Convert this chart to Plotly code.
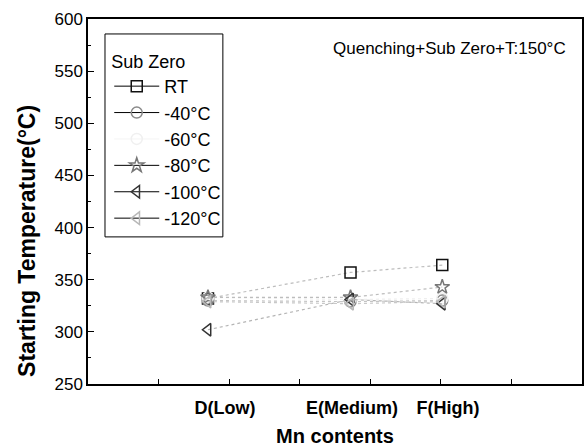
import plotly.graph_objects as go

# ---- data ----
categories = ["D(Low)", "E(Medium)", "F(High)"]
cat_pos = [1.7, 3.72, 5.02]          # category positions on the x scale
label_pos = [1.94, 3.74, 5.1]        # where the category labels sit
series_names = ["RT", "-40°C", "-60°C", "-80°C", "-100°C", "-120°C"]
rt = [332, 357, 364]
m40 = [330, 329, 330]
m60 = [333, 331, 332]
m80 = [333, 333, 343]
m100 = [302, 331, 327]
m120 = [329, 327, 329]
y_ticks = [250, 300, 350, 400, 450, 500, 550, 600]
x_minor_ticks = [1, 2, 3, 4, 5, 6]

series_vals = [rt, m40, m60, m80, m100, m120]
symbols = ["square-open", "circle-open", "circle-open", "star-open",
           "triangle-left-open", "triangle-left-open"]
mcolors = ["#111111", "#8a8a8a", "#f0f0f0", "#777777", "#333333", "#b8b8b8"]
lcolors = ["#bdbdbd", "#c4c4c4", "#eeeeee", "#bdbdbd", "#b5b5b5", "#c8c8c8"]
leg_lines = ["#000000", "#000000", "#f4f4f4", "#000000", "#000000", "#000000"]

FONT = "Liberation Sans, Arial, sans-serif"

fig = go.Figure()
for name, vals, sym, mc, lc in zip(series_names, series_vals, symbols, mcolors, lcolors):
    fig.add_trace(go.Scatter(
        x=cat_pos, y=vals, mode="lines+markers", name=name, showlegend=False,
        line=dict(color=lc, width=1.2, dash="dot"),
        marker=dict(symbol=sym, size=11, color=mc, line=dict(color=mc, width=1.5)),
    ))
# legend entries (solid lines as in the original legend)
for name, sym, mc, ll in zip(series_names, symbols, mcolors, leg_lines):
    fig.add_trace(go.Scatter(
        x=[None], y=[None], mode="lines+markers", name=name, showlegend=True,
        line=dict(color=ll, width=1),
        marker=dict(symbol=sym, size=11, color=mc, line=dict(color=mc, width=1.5)),
    ))

fig.add_annotation(
    x=0.972, y=0.92, xref="paper", yref="paper", xanchor="right", yanchor="middle",
    text="Quenching+Sub Zero+T:150°C", showarrow=False,
    font=dict(family=FONT, size=17, color="black"),
)
# y-axis title
fig.add_annotation(
    x=-0.1235, y=0.392, xref="paper", yref="paper", xanchor="center", yanchor="middle",
    text="<b>Starting Temperature(°C)</b>", showarrow=False, textangle=-90,
    font=dict(family=FONT, size=23, color="black"),
)
# legend frame
fig.add_shape(type="rect", xref="paper", yref="paper",
              x0=0.0344, x1=0.273, y0=0.403, y1=0.959,
              line=dict(color="black", width=1), fillcolor="rgba(0,0,0,0)")

fig.update_layout(
    width=587, height=447,
    margin=dict(l=88, r=5, t=19, b=63),
    paper_bgcolor="white", plot_bgcolor="white",
    font=dict(family=FONT, color="black"),
    showlegend=True,
    legend=dict(
        x=0.043, y=0.93, xanchor="left", yanchor="top",
        borderwidth=0, bgcolor="rgba(0,0,0,0)",
        title=dict(text="Sub Zero", font=dict(family=FONT, size=18)),
        font=dict(family=FONT, size=18), itemwidth=45, tracegroupgap=0,
    ),
    xaxis=dict(
        range=[0, 7], showgrid=False, zeroline=False, automargin=False,
        showline=True, linecolor="black", linewidth=1.5, mirror=True,
        tickmode="array", tickvals=label_pos, ticktext=categories,
        ticks="", ticklabelstandoff=7,
        tickfont=dict(family=FONT, size=18, color="black", weight="bold"),
        minor=dict(tickmode="array", tickvals=x_minor_ticks, ticks="inside",
                   ticklen=5, tickwidth=1.2, tickcolor="black", showgrid=False),
        title=dict(text="<b>Mn contents</b>", font=dict(family=FONT, size=20), standoff=17),
    ),
    yaxis=dict(
        range=[250, 600], showgrid=False, zeroline=False, automargin=False,
        showline=True, linecolor="black", linewidth=1.5, mirror=True,
        tickmode="array", tickvals=y_ticks, ticks="inside", ticklen=6,
        tickwidth=1.2, tickcolor="black",
        tickfont=dict(family=FONT, size=17, color="black"),
        minor=dict(dtick=25, tick0=250, ticks="inside", ticklen=3, tickwidth=1,
                   tickcolor="black", showgrid=False),
    ),
)

fig.write_html("out.html")
